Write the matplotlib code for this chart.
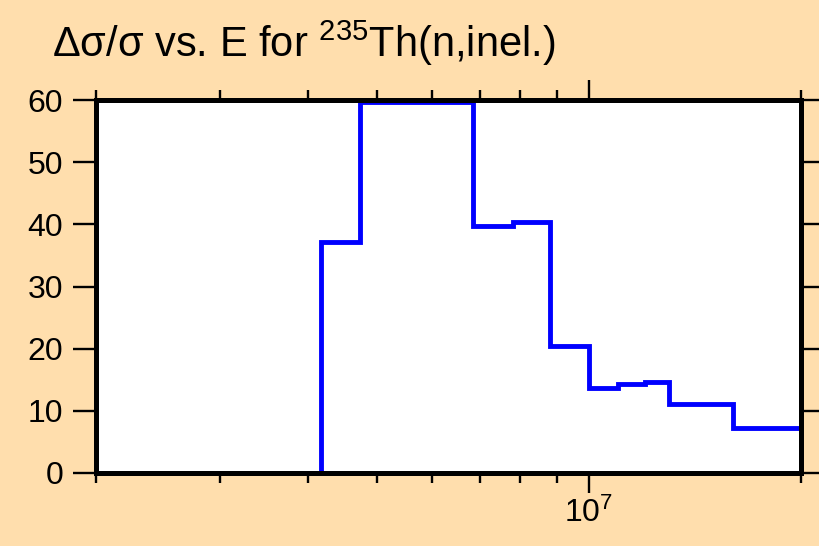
import numpy as np
import matplotlib.pyplot as plt
from matplotlib.ticker import FixedLocator, LogLocator, NullFormatter, FuncFormatter

plt.rcParams['font.family'] = ['Liberation Sans', 'DejaVu Sans']
plt.rcParams['mathtext.default'] = 'regular'

# bin edges (eV) and relative uncertainty (%)
edges = [4.17e6, 4.73e6, 6.86e6, 7.8e6, 8.82e6, 1.0e7, 1.1e7, 1.2e7, 1.3e7, 1.6e7, 2.0e7]
rel_unc = [37.2, 59.7, 39.8, 40.4, 20.5, 13.7, 14.3, 14.7, 11.1, 7.2]

bg = '#ffdead'

fig = plt.figure(figsize=(8.2, 5.46), dpi=100, facecolor=bg)
ax = fig.add_axes([96/820, 1-473/546, (801-96)/820, (473-100)/546])
ax.set_facecolor('white')

ax.stairs(rel_unc, edges, baseline=0, color='#0000ff', lw=3.5, zorder=3)

ax.set_xscale('log')
ax.set_xlim(2e6, 2e7)
ax.set_ylim(0, 60)
ax.set_yticks(np.arange(0, 61, 10))

ax.xaxis.set_major_locator(FixedLocator([1e7]))
ax.xaxis.set_major_formatter(FuncFormatter(lambda v, p: r'$10^{7}$'))
ax.xaxis.set_minor_locator(LogLocator(base=10, subs=np.arange(2, 10)))
ax.xaxis.set_minor_formatter(NullFormatter())

for s in ax.spines.values():
    s.set_linewidth(3.6)
    s.set_zorder(4)

ax.tick_params(axis='x', which='major', direction='out', length=14.5, width=1.7,
               top=True, labelsize=23, pad=3)
ax.tick_params(axis='x', which='minor', direction='out', length=7.2, width=1.7, top=True)
ax.tick_params(axis='y', which='major', direction='out', length=16.5, width=1.7,
               right=True, labelsize=23, pad=7)

fig.text(52/820, 1-57/546, u'\u0394\u03c3/\u03c3 vs. E for $^{235}$Th(n,inel.)',
         fontsize=30, ha='left', va='baseline')

fig.savefig('out.png', dpi=100, facecolor=bg)
